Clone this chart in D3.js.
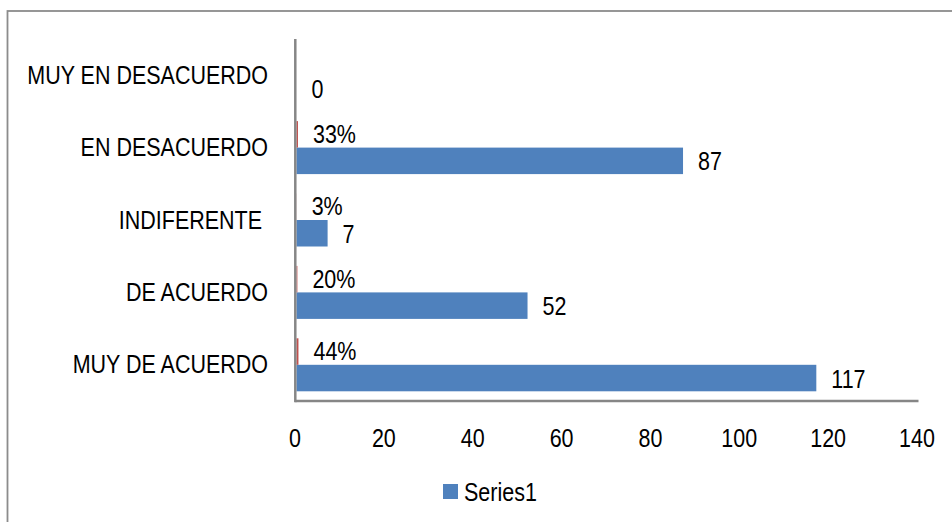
<!DOCTYPE html>
<html>
<head>
<meta charset="utf-8">
<script src="https://cdn.jsdelivr.net/npm/d3@7"></script>
<style>
  html, body { margin: 0; padding: 0; background: #fff; }
  svg { display: block; }
  text { font-family: "Liberation Sans", Arial, sans-serif; fill: #000; white-space: pre; }
</style>
</head>
<body>
<svg id="chart" width="952" height="522"></svg>
<script>
// ---- data ----
const categories = ["MUY EN DESACUERDO", "EN DESACUERDO", "INDIFERENTE ", "DE ACUERDO", "MUY DE ACUERDO"];
const countValues = [0, 87, 7, 52, 117];              // Series1 (blue)
const percentValues = [null, 0.33, 0.03, 0.20, 0.44]; // second series (red, tiny)
const percentLabels = ["", "33%", "3%", "20%", "44%"];
const xTicks = [0, 20, 40, 60, 80, 100, 120, 140];
const legendLabel = "Series1";

// ---- layout ----
const plot = { left: 296.5, right: 918.5, top: 39, bottom: 401 };
const blue = "#4F81BD", red = "#C0504D", axisGray = "#868686";
const fontSize = 25;
const squeeze = "scale(0.86,1)";

const svg = d3.select("#chart");

// outer frame
svg.append("rect")
  .attr("x", 7.5).attr("y", 11).attr("width", 970).attr("height", 540)
  .attr("fill", "none").attr("stroke", "#8c8c8c").attr("stroke-width", 1.8);

const x = d3.scaleLinear().domain([0, 140]).range([plot.left, plot.right]);
const y = d3.scaleBand().domain(categories).range([plot.top, plot.bottom])
  .paddingInner(0.268).paddingOuter(0.134);
const sub = d3.scaleBand().domain(["pct", "count"]).range([0, y.bandwidth()]);

const rows = categories.map((c, i) => ({ c, count: countValues[i], pct: percentValues[i], pl: percentLabels[i] }));

// bars: Series1
svg.append("g").selectAll("rect").data(rows).join("rect")
  .attr("x", x(0))
  .attr("y", d => y(d.c) + sub("count"))
  .attr("width", d => Math.max(0, x(d.count) - x(0)))
  .attr("height", sub.bandwidth())
  .attr("fill", blue);

// bars: percent series
svg.append("g").selectAll("rect").data(rows.filter(d => d.pct != null)).join("rect")
  .attr("x", x(0))
  .attr("y", d => y(d.c) + sub("pct"))
  .attr("width", d => x(d.pct) - x(0))
  .attr("height", sub.bandwidth())
  .attr("fill", red);

// x axis
const xAxis = d3.axisBottom(x).tickValues(xTicks).tickSize(0).tickPadding(0).tickFormat(d3.format("d"));
const gx = svg.append("g").attr("transform", `translate(-2,${plot.bottom + 37})`).call(xAxis);
gx.select(".domain").remove();
gx.selectAll("text").attr("font-size", fontSize).attr("dy", null).attr("y", 0)
  .attr("dominant-baseline", "central").attr("transform", squeeze)
  .style("font-family", '"Liberation Sans", Arial, sans-serif').attr("fill", "#000");
svg.append("line").attr("x1", plot.left - 1.2).attr("x2", plot.right).attr("y1", plot.bottom).attr("y2", plot.bottom)
  .attr("stroke", axisGray).attr("stroke-width", 2.5);

// y axis
const yAxis = d3.axisLeft(y).tickSize(0).tickPadding(0);
const gy = svg.append("g").attr("transform", `translate(268,0)`).call(yAxis);
gy.select(".domain").remove();
gy.selectAll("text").attr("font-size", fontSize).attr("dy", null).attr("x", 0)
  .attr("dominant-baseline", "central").attr("transform", squeeze)
  .style("font-family", '"Liberation Sans", Arial, sans-serif').attr("fill", "#000");
svg.append("line").attr("x1", plot.left - 1.2).attr("x2", plot.left - 1.2).attr("y1", plot.top).attr("y2", plot.bottom + 1.2)
  .attr("stroke", axisGray).attr("stroke-width", 2.5);

// value labels Series1
svg.append("g").selectAll("text").data(rows).join("text")
  .attr("transform", d => `translate(${x(d.count) + 15},${y(d.c) + sub("count") + sub.bandwidth() / 2 + 1}) ${squeeze}`)
  .attr("dominant-baseline", "central")
  .attr("font-size", fontSize)
  .text(d => d.count);

// percent labels
svg.append("g").selectAll("text").data(rows.filter(d => d.pct != null)).join("text")
  .attr("transform", d => `translate(${x(d.pct) + 15},${y(d.c) + sub("pct") + sub.bandwidth() / 2}) ${squeeze}`)
  .attr("dominant-baseline", "central")
  .attr("font-size", fontSize)
  .text(d => d.pl);

// legend
const lg = svg.append("g");
lg.append("rect").attr("x", 443).attr("y", 484).attr("width", 15).attr("height", 15).attr("fill", blue);
lg.append("text").attr("transform", `translate(464,492) ${squeeze}`).attr("dominant-baseline", "central")
  .attr("font-size", fontSize).text(legendLabel);
</script>
</body>
</html>
